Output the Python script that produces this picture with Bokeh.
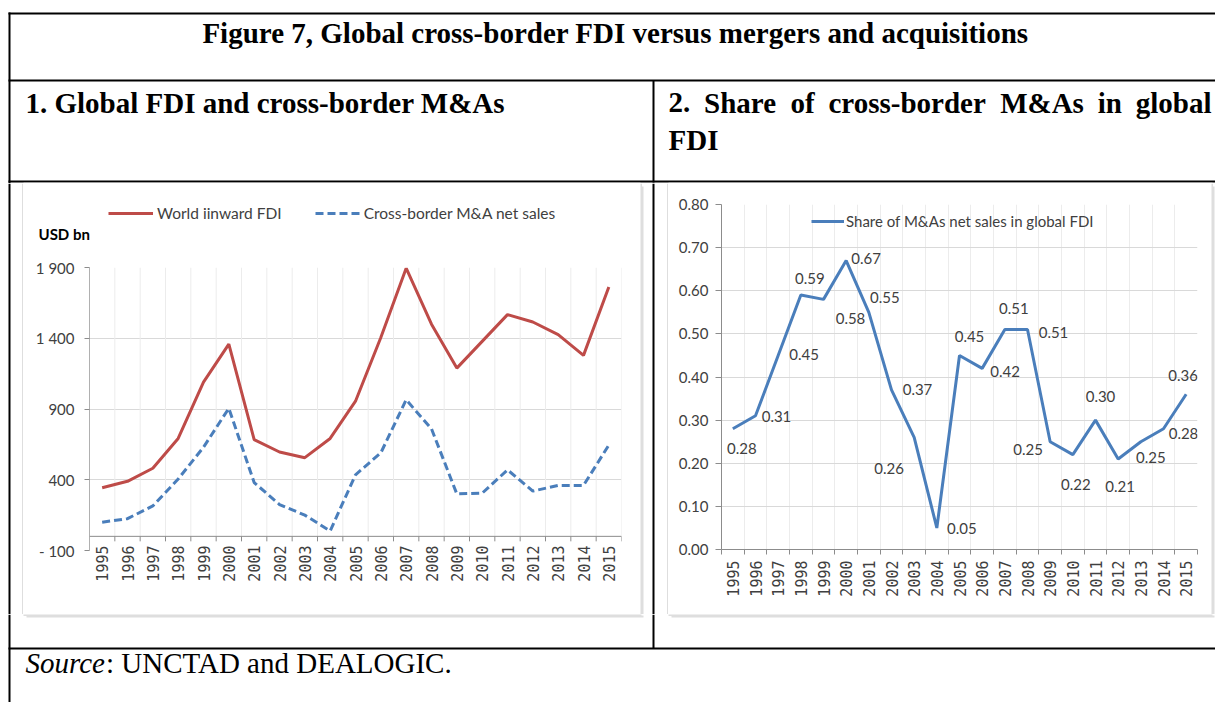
import math
from bokeh.plotting import figure
from bokeh.layouts import column, row
from bokeh.models import (Range1d, FixedTicker, Legend, LegendItem, Span,
                          ColumnDataSource, NumeralTickFormatter)
from bokeh.core.properties import value
from bokeh.embed import file_html
from bokeh.resources import INLINE

# ------------------------------------------------------------------ data
years = list(range(1995, 2016))
world_inward_fdi = [343, 389, 481, 692, 1090, 1359, 684, 596, 556, 692, 955,
                    1405, 1895, 1499, 1189, 1378, 1567, 1515, 1426, 1279, 1762]
cross_border_ma = [100, 125, 215, 405, 630, 905, 380, 225, 150, 38, 435,
                   590, 965, 760, 300, 305, 470, 320, 360, 360, 645]
share_ma_in_fdi = [0.28, 0.31, 0.45, 0.59, 0.58, 0.67, 0.55, 0.37, 0.26, 0.05, 0.45,
                   0.42, 0.51, 0.51, 0.25, 0.22, 0.30, 0.21, 0.25, 0.28, 0.36]
fdi_ticks = [-100, 400, 900, 1400, 1900]
fdi_tick_labels = ["- 100", "400", "900", "1 400", "1 900"]
share_ticks = [0.0, 0.1, 0.2, 0.3, 0.4, 0.5, 0.6, 0.7, 0.8]

title_text = "Figure 7, Global cross-border FDI versus mergers and acquisitions"
panel1_title = "1. Global FDI and cross-border M&As"
panel2_title_words = ["2.", "Share", "of", "cross-border", "M&As", "in", "global"]
panel2_title_line2 = "FDI"
legend1_labels = ["World iinward FDI", "Cross-border M&A net sales"]
legend2_label = "Share of M&As net sales in global FDI"
unit_label = "USD bn"
source_italic = "Source"
source_rest = ": UNCTAD and DEALOGIC."

# ------------------------------------------------------------------ styles
SERIF = "Liberation Serif"
SANS = "Lato"
MONO = "DejaVu Sans Mono"
RED = "#BE4B48"
BLUE = "#4A7EBB"
AXIS_GRAY = "#8c8c8c"
GRID = "#d9d9d9"
VGRID = "#ececec"
TXT = "#404040"
BOX = "#bdbdbd"
SHADOW = "#dedede"
HEAD_FS = 29
W = 1215

# data label offsets (screen px) for the share chart
share_label_dx = [9, 21, 26, 9, 27, 20, 16, 26, -25, 25, 10, 23, 9, 26, -22, 3, 5, 2, 10, 20, -3]
share_label_dy = [20, 1, -1, -17, 19, -2, -15, 0, 31, 1, -19, 3, -21, 3, 8, 30, -24, 28, 16, 5, -19]

# Times-Bold / Times-Italic advance widths (1/1000 em)
TB = {' ': 250, '.': 250, '2': 500, 'S': 556, 'h': 556, 'a': 500, 'r': 444, 'e': 444,
      'o': 500, 'f': 333, 'c': 444, 's': 389, '-': 333, 'b': 556, 'd': 556, 'M': 944,
      '&': 833, 'A': 722, 'i': 278, 'n': 556, 'g': 500, 'l': 278}
TI = {'S': 500, 'o': 500, 'u': 500, 'r': 389, 'c': 444, 'e': 444}


def tw(s, table, fs):
    return sum(table[c] for c in s) * fs / 1000.0


def deco(width, height, x0, x1, y0, y1):
    f = figure(width=width, height=height, x_range=Range1d(x0, x1),
               y_range=Range1d(y1, y0), x_axis_type=None, y_axis_type=None,
               toolbar_location=None, output_backend="svg", min_border=0,
               outline_line_color=None, background_fill_color="white",
               border_fill_color="white")
    f.frame_align = False
    return f


def bar(f, l, r, t, b, color):
    f.quad(left=[l], right=[r], top=[t], bottom=[b], fill_color=color, line_color=None)


def head_text(f, x, y, txt, align="left", style="bold"):
    f.text(x=x, y=y, text=txt, text_font=value(SERIF), text_font_style=style,
           text_font_size=f"{HEAD_FS}px", text_align=align,
           text_baseline="alphabetic", text_color="black")


# ------------------------------------------------------------------ header
hdr = deco(W, 183, 0, W, 0, 183)
bar(hdr, 8, W, 12, 14, "black")
bar(hdr, 8, W, 79, 81, "black")
bar(hdr, 8, W, 180, 182, "black")
bar(hdr, 8, 10, 12, 183, "black")
bar(hdr, 652, 654, 80, 182, "black")
bar(hdr, 23, 640, 182, 183, BOX)
bar(hdr, 668, 1212, 182, 183, BOX)
head_text(hdr, [615], [32], [title_text], align="center")
head_text(hdr, [25], [102], [panel1_title])
left_x, right_x = 668, 1211
widths = [tw(w, TB, HEAD_FS) for w in panel2_title_words]
gap = (right_x - left_x - sum(widths)) / (len(widths) - 1)
xs, cx = [], left_x
for wd in widths:
    xs.append(cx)
    cx += wd + gap
head_text(hdr, xs, [102] * len(xs), panel2_title_words)
head_text(hdr, [668], [139], [panel2_title_line2])

# ------------------------------------------------------------------ gaps
gapL = deco(23, 431, 0, 23, 183, 614)
bar(gapL, 8, 10, 183, 614, "black")
bar(gapL, 22, 23, 183, 614, BOX)

gapM = deco(28, 431, 640, 668, 183, 614)
bar(gapM, 640, 641, 183, 614, BOX)
bar(gapM, 641, 643, 186, 614, SHADOW)
bar(gapM, 652, 654, 183, 614, "black")
bar(gapM, 667, 668, 183, 614, BOX)

gapR = deco(4, 431, 1211, W, 183, 614)
bar(gapR, 1211, 1212, 183, 614, BOX)
bar(gapR, 1212, 1214, 186, 614, SHADOW)

# ------------------------------------------------------------------ footer
ftr = deco(W, 88, 0, W, 614, 702)
bar(ftr, 23, 641, 614, 615, BOX)
bar(ftr, 26, 643, 615, 617, SHADOW)
bar(ftr, 668, 1212, 614, 615, BOX)
bar(ftr, 671, 1214, 615, 617, SHADOW)
bar(ftr, 8, 10, 614, 702, "black")
bar(ftr, 652, 654, 614, 648, "black")
bar(ftr, 8, W, 647, 649, "black")
head_text(ftr, [25], [662], [source_italic], style="italic")
head_text(ftr, [25 + tw(source_italic, TI, HEAD_FS)], [662], [source_rest], style="normal")

# ------------------------------------------------------------------ chart 1 legend strip
strip = deco(617, 62, 23, 640, 183, 245)
strip.text(x=[38], y=[233], text=[unit_label], text_font=value(SANS),
           text_font_style="bold", text_font_size="15px", text_align="left",
           text_baseline="middle", text_color="black")
# legend keys (single off-canvas point so nothing is drawn in the strip itself)
d_fdi = strip.line(x=[0], y=[0], line_color=RED, line_width=3)
d_ma = strip.line(x=[0], y=[0], line_color=BLUE, line_width=3, line_dash="8 4")
leg1 = Legend(items=[LegendItem(label=legend1_labels[0], renderers=[d_fdi]),
                     LegendItem(label=legend1_labels[1], renderers=[d_ma])],
              orientation="horizontal", location=(85, 22), glyph_width=45,
              glyph_height=20, label_standoff=4, spacing=33, padding=0, margin=0,
              border_line_color=None, background_fill_alpha=0,
              label_text_font=SANS, label_text_font_size="15.5px",
              label_text_color=TXT)
strip.add_layout(leg1)

# ------------------------------------------------------------------ chart 1
boundaries = [y - 0.5 for y in years] + [years[-1] + 0.5]

p1 = figure(width=617, height=369, x_range=Range1d(1994.5, 2015.5),
            y_range=Range1d(-100, 1900), toolbar_location=None, output_backend="svg",
            min_border_left=66, min_border_right=19, min_border_top=22,
            min_border_bottom=64, background_fill_color="white",
            border_fill_color="white", outline_line_color=None)
p1.frame_align = False

xa = p1.xaxis[0]
xa.ticker = FixedTicker(ticks=years)
xa.major_label_orientation = math.pi / 2
xa.major_tick_in = 0
xa.major_tick_out = 0
xa.major_tick_line_color = None
xa.minor_tick_line_color = None
xa.axis_line_color = None
xa.major_label_standoff = -5
xa.major_label_text_font = MONO
xa.major_label_text_font_size = "15px"
xa.major_label_text_color = TXT

ya = p1.yaxis[0]
ya.ticker = FixedTicker(ticks=fdi_ticks)
ya.major_label_overrides = dict(zip(fdi_ticks, fdi_tick_labels))
ya.minor_tick_line_color = None
ya.major_tick_in = 0
ya.major_tick_out = 5
ya.major_tick_line_color = AXIS_GRAY
ya.axis_line_color = "#b0b0b0"
ya.major_label_standoff = 10
ya.major_label_text_font = SANS
ya.major_label_text_font_size = "15px"
ya.major_label_text_color = TXT

p1.xgrid.visible = False
p1.ygrid.ticker = FixedTicker(ticks=[t for t in fdi_ticks if t > 0])
p1.ygrid.grid_line_color = GRID

# vertical gridlines at category boundaries, from the x axis (0) to the top tick
p1.segment(x0=boundaries, y0=[0] * len(boundaries), x1=boundaries,
           y1=[fdi_ticks[-1]] * len(boundaries), line_color=VGRID, line_width=1)
# category axis crossing at zero with outside tick marks between categories
p1.add_layout(Span(location=0, dimension="width", line_color=AXIS_GRAY, line_width=1))
tick_len = 5 * (fdi_ticks[-1] - fdi_ticks[0]) / (369 - 22 - 64)
p1.segment(x0=boundaries, y0=[0] * len(boundaries), x1=boundaries,
           y1=[-tick_len] * len(boundaries), line_color=AXIS_GRAY, line_width=1)

r_fdi = p1.line(years, world_inward_fdi, line_color=RED, line_width=3)
r_ma = p1.line(years, cross_border_ma, line_color=BLUE, line_width=3, line_dash="8 4")

# ------------------------------------------------------------------ chart 2
p2 = figure(width=543, height=431, x_range=Range1d(1994.5, 2015.5),
            y_range=Range1d(0, 0.8), toolbar_location=None, output_backend="svg",
            min_border_left=53, min_border_right=14, min_border_top=21,
            min_border_bottom=65, background_fill_color="white",
            border_fill_color="white", outline_line_color=None)
p2.frame_align = False

xb = p2.xaxis[0]
xb.ticker = FixedTicker(ticks=years, minor_ticks=boundaries)
xb.major_label_orientation = math.pi / 2
xb.major_tick_in = 0
xb.major_tick_out = 0
xb.major_tick_line_color = None
xb.minor_tick_in = 0
xb.minor_tick_out = 5
xb.minor_tick_line_color = AXIS_GRAY
xb.axis_line_color = AXIS_GRAY
xb.major_label_standoff = 6
xb.major_label_text_font = MONO
xb.major_label_text_font_size = "15px"
xb.major_label_text_color = TXT

yb = p2.yaxis[0]
yb.ticker = FixedTicker(ticks=share_ticks)
yb.formatter = NumeralTickFormatter(format="0.00")
yb.minor_tick_line_color = None
yb.major_tick_in = 0
yb.major_tick_out = 6
yb.major_tick_line_color = AXIS_GRAY
yb.axis_line_color = AXIS_GRAY
yb.major_label_standoff = 7
yb.major_label_text_font = SANS
yb.major_label_text_font_size = "15px"
yb.major_label_text_color = TXT

p2.xgrid.ticker = FixedTicker(ticks=boundaries)
p2.xgrid.grid_line_color = VGRID
p2.ygrid.grid_line_color = GRID

r_share = p2.line(years, share_ma_in_fdi, line_color=BLUE, line_width=3)

src2 = ColumnDataSource(dict(x=years, y=share_ma_in_fdi,
                             text=[f"{v:.2f}" for v in share_ma_in_fdi],
                             dx=share_label_dx, dy=share_label_dy))
p2.text(x="x", y="y", text="text", x_offset="dx", y_offset="dy", source=src2,
        text_align="center", text_baseline="middle", text_font=value(SANS),
        text_font_size="15px", text_color=TXT)

leg2 = Legend(items=[LegendItem(label=legend2_label, renderers=[r_share])],
              orientation="horizontal", location=(90, 318), glyph_width=33,
              glyph_height=20, label_standoff=2, padding=0, margin=0,
              border_line_color=None, background_fill_alpha=0,
              label_text_font=SANS, label_text_font_size="15px",
              label_text_color=TXT)
p2.add_layout(leg2)

# ------------------------------------------------------------------ page
page = column(hdr,
              row(gapL, column(strip, p1), gapM, p2, gapR),
              ftr)
open("out.html", "w").write(file_html(page, INLINE))
